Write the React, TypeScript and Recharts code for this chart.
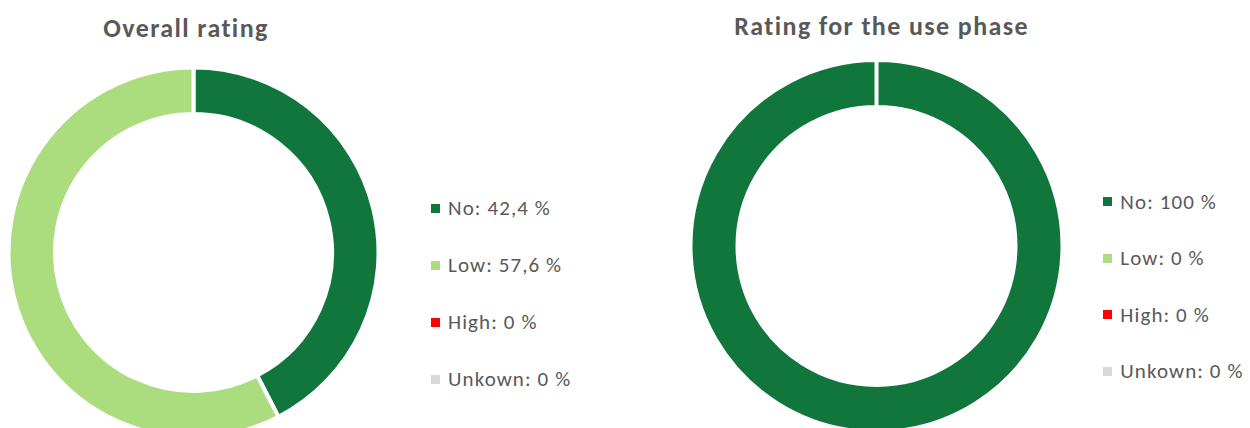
import React from 'react';
import { PieChart, Pie, Cell, Legend } from 'recharts';

const categories = ['No', 'Low', 'High', 'Unkown'];
const overallValues = [42.4, 57.6, 0, 0];
const usePhaseValues = [100, 0, 0, 0];
const sliceColors = ['#10763C', '#ABDD7F', '#FF0000', '#D9D9D9'];
const chartTitles = ['Overall rating', 'Rating for the use phase'];

const FONT = 'Carlito, Lato, "Open Sans", sans-serif';
const TEXT_COLOR = '#595959';

const fmt = (v: number) => String(v).replace('.', ',');

const buildData = (values: number[]) =>
  categories.map((name, i) => ({ name, value: values[i], color: sliceColors[i] }));

type PanelCfg = {
  values: number[];
  title: string;
  left: number;
  cx: number;
  cy: number;
  inner: number;
  outer: number;
  titleX: number;
  titleY: number;
  legendLeft: number;
  legendTop: number;
  rowH: number;
};

const panels: PanelCfg[] = [
  {
    values: overallValues,
    title: chartTitles[0],
    left: 0,
    cx: 193.5,
    cy: 252.5,
    inner: 138.5,
    outer: 185,
    titleX: 186,
    titleY: 28,
    legendLeft: 431,
    legendTop: 179.5,
    rowH: 57,
  },
  {
    values: usePhaseValues,
    title: chartTitles[1],
    left: 625,
    cx: 251.5,
    cy: 246,
    inner: 139,
    outer: 186,
    titleX: 256.7,
    titleY: 26,
    legendLeft: 478.3,
    legendTop: 173.4,
    rowH: 56.5,
  },
];

const makeLegend = (values: number[], rowH: number) => () => (
  <div style={{ fontFamily: FONT }}>
    {categories.map((c, i) => (
      <div
        key={c}
        style={{ height: rowH, display: 'flex', alignItems: 'center', whiteSpace: 'nowrap' }}
      >
        <div style={{ width: 9, height: 9, background: sliceColors[i], marginRight: 8, flexShrink: 0 }} />
        <span style={{ fontSize: 21, letterSpacing: 1.1, color: TEXT_COLOR }}>
          {`${c}: ${fmt(values[i])} %`}
        </span>
      </div>
    ))}
  </div>
);

const Panel = ({ cfg }: { cfg: PanelCfg }) => {
  const data = buildData(cfg.values);
  return (
    <div style={{ position: 'absolute', left: cfg.left, top: 0, width: 625, height: 428 }}>
      <div
        style={{
          position: 'absolute',
          left: cfg.titleX - 250,
          width: 500,
          top: cfg.titleY - 20,
          height: 40,
          lineHeight: '40px',
          textAlign: 'center',
          fontFamily: FONT,
          fontWeight: 700,
          fontSize: 26,
          letterSpacing: 1.4,
          color: TEXT_COLOR,
          whiteSpace: 'nowrap',
        }}
      >
        {cfg.title}
      </div>
      <PieChart width={625} height={428} margin={{ top: 0, right: 0, bottom: 0, left: 0 }}>
        <Pie
          data={data}
          dataKey="value"
          nameKey="name"
          cx={cfg.cx}
          cy={cfg.cy}
          innerRadius={cfg.inner}
          outerRadius={cfg.outer}
          startAngle={90}
          endAngle={-270}
          stroke="#FFFFFF"
          strokeWidth={4}
          isAnimationActive={false}
        >
          {data.map((d) => (
            <Cell key={d.name} fill={d.color} />
          ))}
        </Pie>
        <Legend
          layout="vertical"
          align="right"
          verticalAlign="middle"
          content={makeLegend(cfg.values, cfg.rowH)}
          wrapperStyle={{ left: cfg.legendLeft, top: cfg.legendTop, right: 'auto', bottom: 'auto', width: 170 }}
        />
      </PieChart>
    </div>
  );
};

export default function App() {
  return (
    <div
      style={{
        position: 'absolute',
        left: 0,
        top: 0,
        width: 1250,
        height: 428,
        overflow: 'hidden',
        background: '#FFFFFF',
      }}
    >
      {panels.map((p) => (
        <Panel key={p.title} cfg={p} />
      ))}
    </div>
  );
}
